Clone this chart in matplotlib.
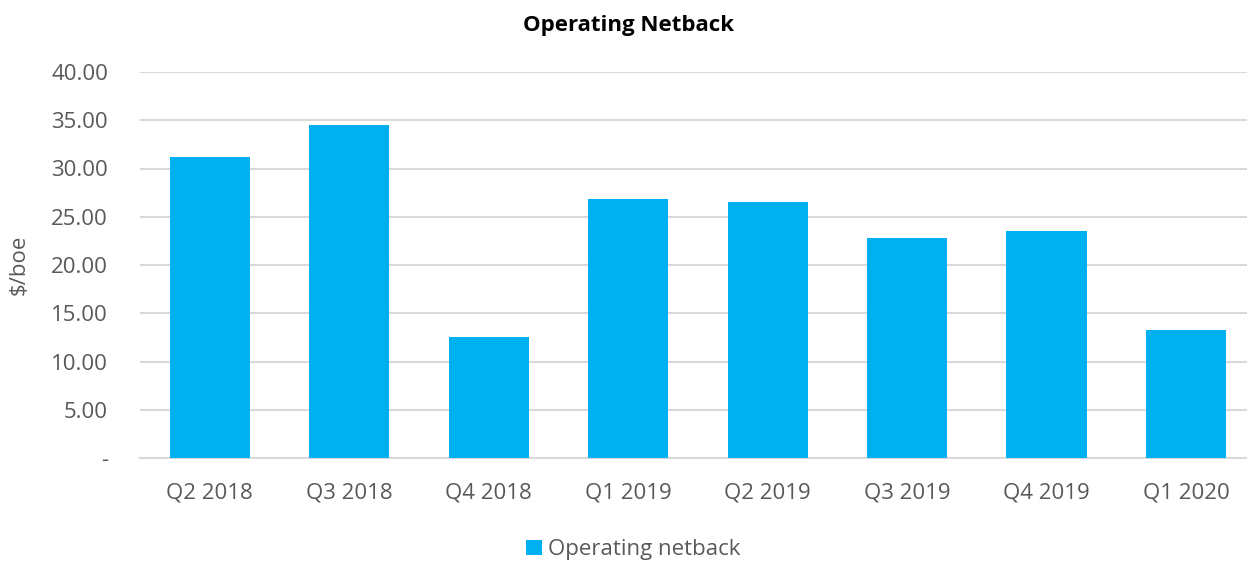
import matplotlib
matplotlib.use("Agg")
import matplotlib.pyplot as plt
from matplotlib.ticker import FuncFormatter

quarters = ["Q2 2018", "Q3 2018", "Q4 2018", "Q1 2019", "Q2 2019", "Q3 2019", "Q4 2019", "Q1 2020"]
netback = [31.2, 34.5, 12.5, 26.8, 26.5, 22.8, 23.5, 13.3]

plt.rcParams["font.family"] = ["Open Sans", "DejaVu Sans"]

fig = plt.figure(figsize=(12.47, 5.61), dpi=100)
ax = fig.add_axes([140 / 1247, 103 / 561, 1 - 140 / 1247, 386 / 561])

x = list(range(len(quarters)))
ax.bar(x, netback, width=0.575, color="#00B0F0", label="Operating netback", zorder=3)

ax.set_xlim(-0.5, 7.437)
ax.set_ylim(0, 40)
ax.set_yticks(range(0, 41, 5))
ax.yaxis.set_major_formatter(FuncFormatter(lambda v, p: "-" if v == 0 else f"{v:.2f}"))
ax.set_xticks(x)
ax.set_xticklabels(quarters)

ax.grid(axis="y", color="#d9d9d9", linewidth=1.5, zorder=0)
for s in ["top", "right", "left"]:
    ax.spines[s].set_visible(False)
ax.spines["bottom"].set_color("#d9d9d9")
ax.spines["bottom"].set_linewidth(1.5)
ax.tick_params(axis="both", length=0, labelsize=16, labelcolor="#595959")
ax.tick_params(axis="x", pad=18)
ax.tick_params(axis="y", pad=23)

ax.set_ylabel("$/boe", fontsize=16, color="#595959")
ax.yaxis.set_label_coords(-0.1, 0.5)

fig.text(0.504, 0.955, "Operating Netback", ha="center", va="center",
         fontsize=16, fontweight="bold", color="black")

fig.legend(loc="center", bbox_to_anchor=(0.508, 0.02), frameon=False,
           fontsize=16, labelcolor="#595959", handlelength=0.7, handleheight=0.7,
           handletextpad=0.3)

fig.savefig("out.png", dpi=100)
